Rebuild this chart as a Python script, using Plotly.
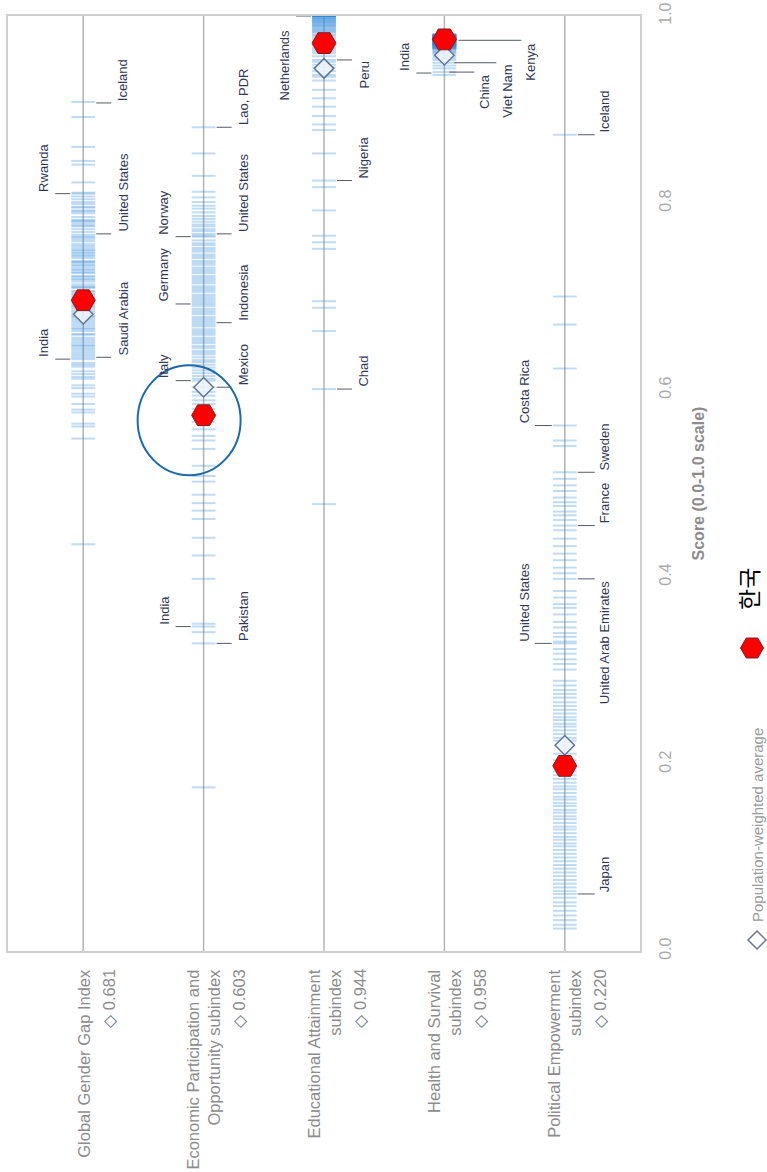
import plotly.graph_objects as go

# ---------------- data ----------------
categories = [
    "Global Gender Gap Index",
    "Economic Participation and<br>Opportunity subindex",
    "Educational Attainment<br>subindex",
    "Health and Survival<br>subindex",
    "Political Empowerment<br>subindex",
]
pop_weighted_avg = [0.681, 0.603, 0.944, 0.958, 0.220]
korea = [0.696, 0.573, 0.971, 0.975, 0.198]
y_ticks = [0.0, 0.2, 0.4, 0.6, 0.8, 1.0]
y_tick_labels = ["0.0", "0.2", "0.4", "0.6", "0.8", "1.0"]
axis_title = "Score (0.0-1.0 scale)"
legend_avg = "Population-weighted average"
legend_korea = "한국"

global_scores = [
    0.908, 0.892, 0.860, 0.845, 0.841, 0.822, 0.811, 0.810, 0.807, 0.804, 0.801, 0.799,
    0.796, 0.795, 0.792, 0.791, 0.789, 0.785, 0.782, 0.781, 0.780, 0.778, 0.776, 0.775,
    0.772, 0.769, 0.766, 0.764, 0.763, 0.761, 0.759, 0.756, 0.754, 0.752, 0.750, 0.749,
    0.747, 0.746, 0.744, 0.743, 0.741, 0.738, 0.737, 0.736, 0.734, 0.733, 0.731, 0.729,
    0.728, 0.726, 0.725, 0.722, 0.721, 0.719, 0.718, 0.716, 0.713, 0.711, 0.710, 0.709,
    0.706, 0.705, 0.703, 0.702, 0.700, 0.699, 0.697, 0.695, 0.694, 0.692, 0.690, 0.689,
    0.687, 0.685, 0.683, 0.681, 0.679, 0.678, 0.676, 0.674, 0.672, 0.670, 0.668, 0.666,
    0.665, 0.663, 0.660, 0.659, 0.656, 0.654, 0.652, 0.650, 0.648, 0.647, 0.645, 0.643,
    0.641, 0.639, 0.637, 0.635, 0.633, 0.629, 0.627, 0.625, 0.620, 0.617, 0.614, 0.612,
    0.605, 0.602, 0.596, 0.593, 0.585, 0.579, 0.576, 0.564, 0.561, 0.548, 0.435,
]
economic_scores = [
    0.881, 0.853, 0.829, 0.812, 0.806, 0.801, 0.797, 0.794, 0.790, 0.786, 0.783, 0.780,
    0.777, 0.775, 0.772, 0.770, 0.767, 0.765, 0.764, 0.760, 0.757, 0.755, 0.752, 0.750,
    0.748, 0.745, 0.743, 0.741, 0.738, 0.736, 0.734, 0.731, 0.729, 0.727, 0.725, 0.722,
    0.720, 0.718, 0.716, 0.714, 0.711, 0.709, 0.707, 0.705, 0.702, 0.700, 0.698, 0.696,
    0.694, 0.692, 0.690, 0.687, 0.685, 0.683, 0.681, 0.678, 0.676, 0.674, 0.672, 0.670,
    0.668, 0.665, 0.663, 0.661, 0.659, 0.656, 0.654, 0.652, 0.650, 0.647, 0.645, 0.642,
    0.640, 0.638, 0.635, 0.632, 0.630, 0.627, 0.624, 0.621, 0.618, 0.615, 0.612, 0.610,
    0.603, 0.598, 0.594, 0.589, 0.585, 0.580, 0.572, 0.566, 0.558, 0.551, 0.546, 0.537,
    0.519, 0.508, 0.502, 0.488, 0.479, 0.471, 0.462, 0.442, 0.423, 0.398, 0.350, 0.347,
    0.341, 0.329, 0.175,
]
education_scores = [
    1.000, 1.000, 1.000, 1.000, 1.000, 1.000, 1.000, 1.000, 1.000, 1.000, 1.000, 1.000,
    1.000, 1.000, 1.000, 1.000, 1.000, 1.000, 1.000, 1.000, 1.000, 1.000, 0.999, 0.998,
    0.998, 0.997, 0.997, 0.996, 0.995, 0.995, 0.994, 0.993, 0.993, 0.992, 0.991, 0.990,
    0.990, 0.989, 0.988, 0.987, 0.986, 0.985, 0.984, 0.983, 0.982, 0.980, 0.979, 0.977,
    0.975, 0.973, 0.972, 0.970, 0.968, 0.966, 0.964, 0.962, 0.960, 0.957, 0.953, 0.951,
    0.948, 0.945, 0.941, 0.937, 0.935, 0.931, 0.921, 0.912, 0.903, 0.893, 0.884, 0.878,
    0.853, 0.824, 0.817, 0.792, 0.765, 0.758, 0.751, 0.695, 0.688, 0.663, 0.601, 0.478,
]
health_scores = [
    0.980, 0.980, 0.980, 0.980, 0.980, 0.980, 0.979, 0.979, 0.979, 0.979, 0.979, 0.978,
    0.978, 0.978, 0.978, 0.978, 0.978, 0.977, 0.977, 0.977, 0.977, 0.977, 0.977, 0.977,
    0.977, 0.976, 0.976, 0.976, 0.976, 0.976, 0.976, 0.976, 0.976, 0.975, 0.975, 0.975,
    0.975, 0.975, 0.975, 0.975, 0.974, 0.974, 0.974, 0.974, 0.974, 0.974, 0.974, 0.973,
    0.973, 0.973, 0.973, 0.973, 0.973, 0.972, 0.972, 0.972, 0.972, 0.972, 0.972, 0.971,
    0.971, 0.971, 0.971, 0.971, 0.970, 0.970, 0.970, 0.970, 0.970, 0.969, 0.969, 0.969,
    0.969, 0.968, 0.968, 0.968, 0.968, 0.967, 0.967, 0.967, 0.966, 0.966, 0.966, 0.965,
    0.965, 0.965, 0.963, 0.963, 0.961, 0.961, 0.959, 0.957, 0.955, 0.953, 0.950, 0.947,
    0.944, 0.940, 0.937,
]
political_scores = [
    0.873, 0.700, 0.670, 0.623, 0.562, 0.546, 0.540, 0.512, 0.505, 0.498, 0.492, 0.485,
    0.480, 0.476, 0.470, 0.466, 0.461, 0.455, 0.450, 0.441, 0.433, 0.425, 0.418, 0.410,
    0.404, 0.398, 0.385, 0.378, 0.371, 0.367, 0.360, 0.352, 0.346, 0.340, 0.336, 0.331,
    0.329, 0.323, 0.318, 0.312, 0.307, 0.301, 0.289, 0.284, 0.279, 0.275, 0.271, 0.266,
    0.262, 0.258, 0.254, 0.250, 0.247, 0.243, 0.240, 0.236, 0.232, 0.228, 0.225, 0.211,
    0.204, 0.192, 0.188, 0.184, 0.180, 0.176, 0.173, 0.169, 0.165, 0.162, 0.158, 0.155,
    0.151, 0.148, 0.144, 0.141, 0.137, 0.133, 0.130, 0.126, 0.122, 0.119, 0.115, 0.112,
    0.108, 0.104, 0.100, 0.096, 0.092, 0.088, 0.084, 0.080, 0.076, 0.072, 0.068, 0.064,
    0.061, 0.057, 0.052, 0.048, 0.043, 0.038, 0.033, 0.028, 0.024,
]
row_scores = [global_scores, economic_scores, education_scores, health_scores, political_scores]

# labelled countries
label_row = [0, 0, 0, 0, 0,
             1, 1, 1, 1, 1, 1, 1, 1, 1,
             2, 2, 2, 2,
             3, 3, 3, 3,
             4, 4, 4, 4, 4, 4, 4]
label_name = ["India", "Rwanda", "Saudi Arabia", "United States", "Iceland",
              "Lao, PDR", "United States", "Norway", "Germany", "Indonesia", "Italy", "Mexico", "India", "Pakistan",
              "Netherlands", "Peru", "Nigeria", "Chad",
              "India", "China", "Viet Nam", "Kenya",
              "Iceland", "Costa Rica", "Sweden", "France", "United Arab Emirates", "United States", "Japan"]
label_score = [0.633, 0.810, 0.635, 0.767, 0.907,
               0.881, 0.767, 0.764, 0.692, 0.672, 0.610, 0.603, 0.347, 0.329,
               1.000, 0.953, 0.824, 0.601,
               0.939, 0.940, 0.950, 0.974,
               0.873, 0.562, 0.512, 0.455, 0.398, 0.329, 0.061]

# ---------------- placement / style (not data) ----------------
# side: +1 right of row line, -1 left; mode: "start" text begins at leader, "end" text ends at leader
label_side = [-1, -1, 1, 1, 1,
              1, 1, -1, -1, 1, -1, 1, -1, 1,
              -1, 1, 1, 1,
              -1, 1, 1, 1,
              1, -1, 1, 1, 1, -1, 1]
label_mode = ["start"] * 14 + ["end", "end", "start", "start"] + ["start", "end", "end", "end"] + \
             ["start", "start", "start", "start", "end", "start", "start"]
leader_far = [28] * 19 + [30, 52, 77] + [30] * 7
text_off = [40] * 19 + [40, 63, 86] + [40] * 7
leader_near = [13] * 19 + [5, 10, 14] + [13] * 7
label_yshift = [0] * 14 + [-12] + [0] * 14

FONT = "Liberation Sans, Arial, Helvetica, sans-serif"
TICK_COLOR = "rgba(45,140,220,0.30)"

fig = go.Figure()

for i, vals in enumerate(row_scores):
    fig.add_trace(go.Scatter(
        x=[i] * len(vals), y=vals, mode="markers",
        marker=dict(symbol="line-ew", size=17, line=dict(color=TICK_COLOR, width=2)),
        hoverinfo="skip", showlegend=False))

fig.add_trace(go.Scatter(
    x=list(range(len(categories))), y=pop_weighted_avg, mode="markers",
    marker=dict(symbol="diamond", size=15, color="rgba(236,244,252,0.9)",
                line=dict(color="#5f7699", width=1.5)),
    showlegend=False, hoverinfo="skip"))
fig.add_trace(go.Scatter(
    x=list(range(len(categories))), y=korea, mode="markers",
    marker=dict(symbol="hexagon2", size=24, color="#ff0000",
                line=dict(color="#7a2020", width=1)),
    showlegend=False, hoverinfo="skip"))

shapes = []
# row lines
for i in range(len(categories)):
    shapes.append(dict(type="line", xref="x", yref="paper", x0=i, x1=i, y0=0, y1=1,
                       line=dict(color="#b3b3b3", width=1.5), layer="below"))

annotations = []
for k in range(len(label_name)):
    r = label_row[k]
    s = label_side[k]
    shapes.append(dict(type="line", xref="x", xsizemode="pixel", xanchor=r,
                       x0=s * leader_near[k], x1=s * leader_far[k],
                       yref="y", y0=label_score[k], y1=label_score[k],
                       line=dict(color="#555a66", width=1)))
    annotations.append(dict(
        text=label_name[k], xref="x", x=r, xshift=s * text_off[k], xanchor="center",
        yref="y", y=label_score[k], yshift=label_yshift[k],
        yanchor="bottom" if label_mode[k] == "start" else "top",
        textangle=-90, showarrow=False,
        font=dict(family=FONT, size=13, color="#2e3955")))

# row labels below the frame
for i, name in enumerate(categories):
    two_line = "<br>" in name
    annotations.append(dict(
        text=name, xref="x", x=i, xshift=-0.5 if two_line else 0, xanchor="center",
        yref="paper", y=0, yshift=-16, yanchor="top", align="right",
        textangle=-90, showarrow=False,
        font=dict(family=FONT, size=16.5, color="#8c8c8c")))
    annotations.append(dict(
        text="<span style='color:#6c7391'>◇</span> %.3f" % pop_weighted_avg[i],
        xref="x", x=i, xshift=35 if two_line else 25, xanchor="center",
        yref="paper", y=0, yshift=-16, yanchor="top", align="right",
        textangle=-90, showarrow=False,
        font=dict(family=FONT, size=16.5, color="#8c8c8c")))

# highlight ellipse around Korea's economic score
shapes.append(dict(type="circle", xref="x", yref="y", xsizemode="pixel", ysizemode="pixel",
                   xanchor=1, yanchor=korea[1], x0=-66, x1=37, y0=-60, y1=50,
                   line=dict(color="#1c6aab", width=2)))

# custom legend (rotated like the rest of the chart)
PL, PR, PT, PB = 8, 127, 16, 221
W, H = 767, 1172
pw, ph = W - PL - PR, H - PT - PB


def px_x(px):
    return (px - PL) / pw


def px_y(py):
    return (H - PB - py) / ph


hexr = 11.5
hex_path = "M{a},0 L{b},{c} L{d},{c} L{e},0 L{d},{f} L{b},{f} Z".format(
    a=hexr, b=hexr / 2, c=hexr * 0.866, d=-hexr / 2, e=-hexr, f=-hexr * 0.866)
shapes.append(dict(type="path", xref="paper", yref="paper", xsizemode="pixel", ysizemode="pixel",
                   xanchor=px_x(752), yanchor=px_y(648), path=hex_path,
                   fillcolor="#ff0000", line=dict(color="#7a2020", width=1)))
shapes.append(dict(type="path", xref="paper", yref="paper", xsizemode="pixel", ysizemode="pixel",
                   xanchor=px_x(757), yanchor=px_y(940), path="M0,9 L9,0 L0,-9 L-9,0 Z",
                   fillcolor="rgba(255,255,255,0)", line=dict(color="#6c7391", width=1.5)))
annotations.append(dict(text=legend_korea, xref="paper", yref="paper", x=px_x(748), y=px_y(612),
                        xanchor="center", yanchor="bottom", textangle=-90, showarrow=False,
                        font=dict(family="Noto Sans CJK KR", size=23, color="#000000")))
annotations.append(dict(text=legend_avg, xref="paper", yref="paper", x=px_x(757), y=px_y(924),
                        xanchor="center", yanchor="bottom", textangle=-90, showarrow=False,
                        font=dict(family=FONT, size=15, color="#9a9a9a")))

fig.update_layout(
    width=W, height=H, margin=dict(l=PL, r=PR, t=PT, b=PB, autoexpand=False),
    paper_bgcolor="white", plot_bgcolor="white",
    shapes=shapes, annotations=annotations, showlegend=False,
    font=dict(family=FONT),
    xaxis=dict(range=[-0.625, len(categories) - 0.375], showticklabels=False, ticks="",
               showgrid=False, zeroline=False, showline=True, mirror=True,
               linecolor="#cfcfcf", linewidth=1.5, fixedrange=True),
    yaxis=dict(range=[0, 1], side="right", tickvals=y_ticks, ticktext=y_tick_labels,
               tickangle=-90, tickfont=dict(size=16, color="#ababab"), ticks="",
               ticklabelstandoff=10,
               title=dict(text=axis_title, font=dict(size=16, color="#8c8c8c", weight="bold"),
                          standoff=20),
               showgrid=False, zeroline=False, showline=True, mirror=True,
               linecolor="#cfcfcf", linewidth=1.5, fixedrange=True),
)

fig.write_html("out.html")
